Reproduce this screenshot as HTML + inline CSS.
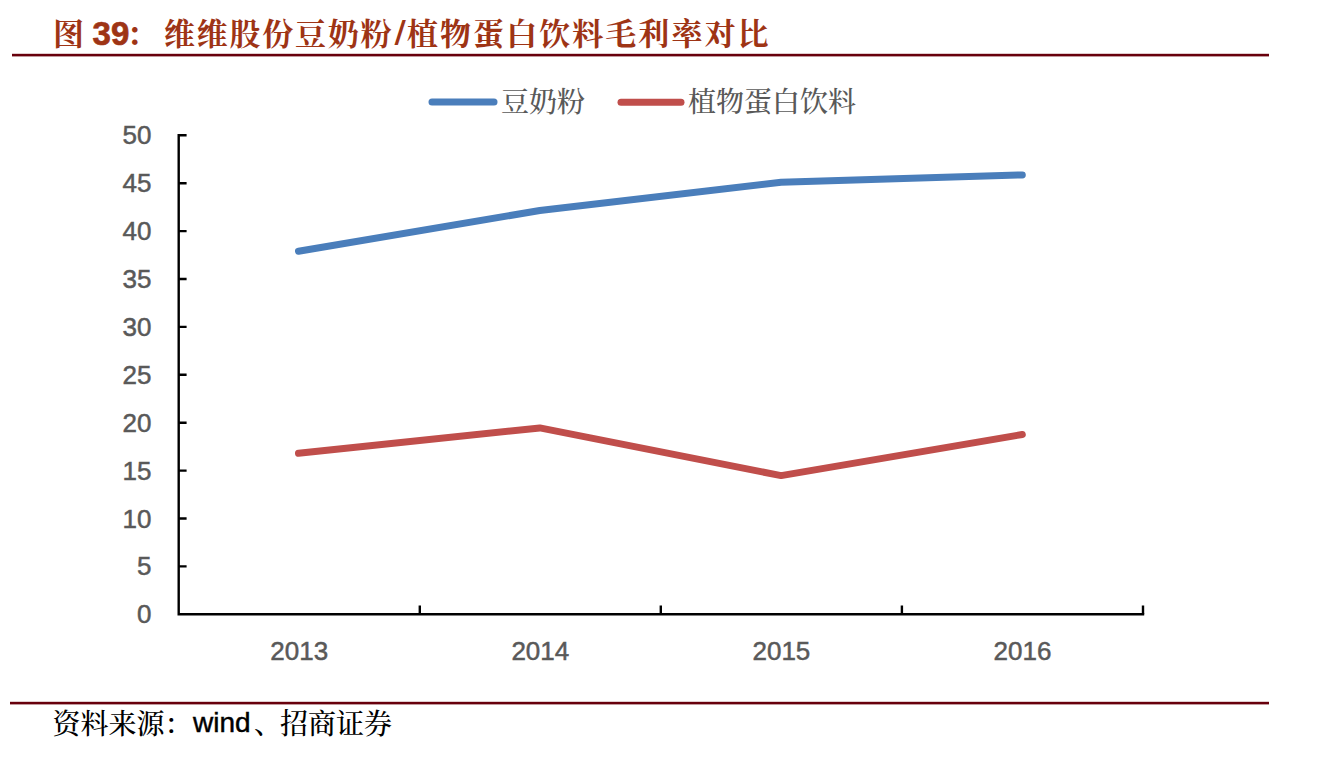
<!DOCTYPE html>
<html lang="zh-CN">
<head>
<meta charset="utf-8">
<title>维维股份豆奶粉/植物蛋白饮料毛利率对比</title>
<style>
html,body{margin:0;padding:0;background:#fff;}
body{width:1326px;height:782px;overflow:hidden;position:relative;}
svg{position:absolute;left:0;top:0;display:block;}
.cjk{font-family:"Liberation Serif","Noto Serif CJK SC",serif;}
.num{font-family:"Liberation Sans",sans-serif;}
</style>
</head>
<body>
<svg width="1326" height="782" viewBox="0 0 1326 782">
  <!-- title -->
  <text y="44.6" fill="#9e3415" font-weight="bold"><tspan class="cjk" x="53" font-size="31">图</tspan><tspan class="num" x="92.6" font-size="33" stroke="#9e3415" stroke-width="0.7">39</tspan><tspan class="cjk" x="126.5" font-size="31">：</tspan><tspan class="cjk" x="164" font-size="31" letter-spacing="1.75">维维股份豆奶粉</tspan><tspan x="394.5" y="42.2" font-family="DejaVu Sans, sans-serif" font-size="31">/</tspan><tspan class="cjk" x="407" y="44.6" font-size="31" letter-spacing="2.05">植物蛋白饮料毛利率对比</tspan></text>
  <rect x="12" y="53.8" width="1257" height="2.6" fill="#68000c"/>

  <!-- legend -->
  <line x1="432" y1="102" x2="494" y2="102" stroke="#4a7ebb" stroke-width="7" stroke-linecap="round"/>
  <text class="cjk" x="501" y="112" fill="#595959" font-size="28" font-weight="500">豆奶粉</text>
  <line x1="621" y1="102.3" x2="681" y2="102.3" stroke="#c04e4b" stroke-width="7" stroke-linecap="round"/>
  <text class="cjk" x="688" y="112" fill="#595959" font-size="28" font-weight="500">植物蛋白饮料</text>

  <!-- axes -->
  <g stroke="#000" stroke-width="2.4" fill="none" stroke-linecap="square">
    <path d="M178.7 135.3 V614.3 H1143"/>
    <path stroke-linecap="butt" d="M178.7 135.3H186.6 M178.7 183.2H186.6 M178.7 231.1H186.6 M178.7 279.0H186.6 M178.7 326.9H186.6 M178.7 374.8H186.6 M178.7 422.7H186.6 M178.7 470.6H186.6 M178.7 518.5H186.6 M178.7 566.4H186.6"/>
    <path stroke-linecap="butt" d="M419.8 614.3 V605.6 M660.8 614.3 V605.6 M901.9 614.3 V605.6 M1143 614.3 V605.6"/>
  </g>

  <!-- y labels -->
  <g class="num" fill="#595959" stroke="#595959" stroke-width="0.5" font-size="26" text-anchor="end">
    <text x="151.5" y="144.3">50</text>
    <text x="151.5" y="192.2">45</text>
    <text x="151.5" y="240.1">40</text>
    <text x="151.5" y="288.0">35</text>
    <text x="151.5" y="335.9">30</text>
    <text x="151.5" y="383.8">25</text>
    <text x="151.5" y="431.7">20</text>
    <text x="151.5" y="479.6">15</text>
    <text x="151.5" y="527.5">10</text>
    <text x="151.5" y="575.4">5</text>
    <text x="151.5" y="623.3">0</text>
  </g>
  <!-- x labels -->
  <g class="num" fill="#595959" stroke="#595959" stroke-width="0.5" font-size="26" text-anchor="middle">
    <text x="299.2" y="660">2013</text>
    <text x="540.3" y="660">2014</text>
    <text x="781.4" y="660">2015</text>
    <text x="1022.5" y="660">2016</text>
  </g>

  <!-- series -->
  <polyline points="298.5,251.2 539.8,210.5 781.1,182.2 1022.3,174.9" fill="none" stroke="#4a7ebb" stroke-width="7" stroke-linecap="round" stroke-linejoin="round"/>
  <polyline points="298.5,453.3 539.8,427.9 781.1,475.6 1022.3,434.5" fill="none" stroke="#c04e4b" stroke-width="7" stroke-linecap="round" stroke-linejoin="round"/>

  <!-- footer -->
  <rect x="10" y="701.8" width="1259" height="2.6" fill="#68000c"/>
  <text y="734" fill="#000" font-size="28" font-weight="500"><tspan class="cjk" x="52.5">资料来源：</tspan><tspan class="num" x="193" y="732.3" font-size="28" stroke="#000" stroke-width="0.45">wind</tspan><tspan class="cjk" x="254" y="734">、</tspan><tspan class="cjk" x="280">招商证券</tspan></text>
</svg>
</body>
</html>
